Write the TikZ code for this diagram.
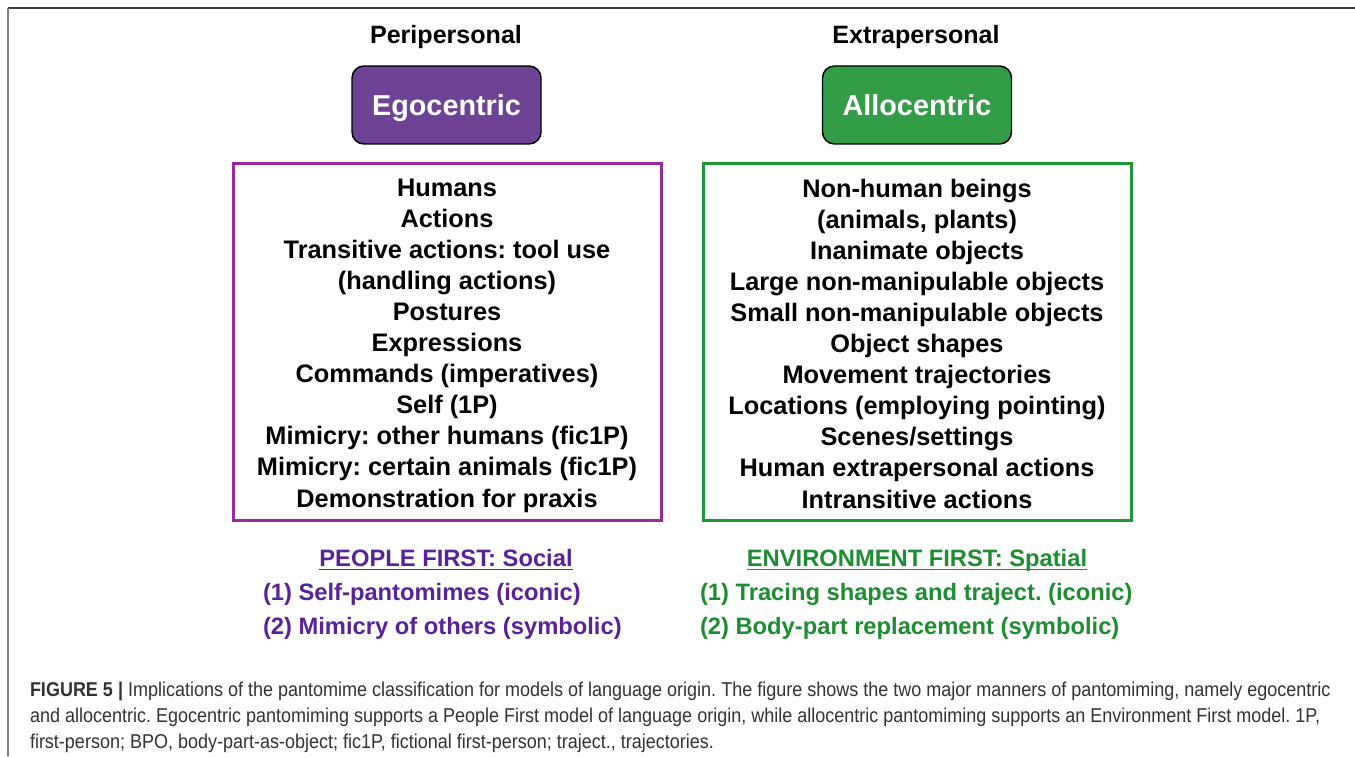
\documentclass[tikz,border=0pt]{standalone}
\usepackage{fontspec}
\setmainfont{Liberation Sans}
\newfontfamily\capfont[FakeStretch=0.9]{Liberation Sans}
\frenchspacing
\definecolor{egofill}{RGB}{110,66,148}
\definecolor{allofill}{RGB}{50,156,70}
\definecolor{egoline}{RGB}{155,40,162}
\definecolor{alloline}{RGB}{28,152,56}
\definecolor{egotext}{RGB}{90,34,152}
\definecolor{allotext}{RGB}{30,140,48}
\definecolor{captext}{RGB}{50,50,50}
\begin{document}
\begin{tikzpicture}[x=0.75pt,y=-0.75pt,
  every node/.style={inner sep=0pt, outer sep=0pt},
  colhead/.style={font=\fontsize{18.8}{22}\selectfont\bfseries, anchor=base},
  tag/.style={draw=black, line width=1.1pt, rounded corners=9pt,
    minimum width=141.75pt, minimum height=58.5pt, text=white,
    text height=15.5pt, text depth=0pt,
    font=\fontsize{21.6}{26}\selectfont\bfseries},
  listbox/.style={line width=2.25pt, minimum width=321pt, minimum height=267pt},
  item/.style={font=\fontsize{19}{23}\selectfont\bfseries, anchor=base},
  firsthead/.style={font=\fontsize{17.8}{22}\selectfont\bfseries, anchor=base},
  firstitem/.style={font=\fontsize{17.8}{22}\selectfont\bfseries, anchor=base west},
  capline/.style={font=\capfont\fontsize{15}{19.5}\selectfont, text=captext, anchor=base west},
]
\useasboundingbox (0,0) rectangle (1355,756);

% page frame (top and left edges)
\draw[line width=1.6pt, color={rgb,255:red,60;green,60;blue,60}] (8,8) -- (1355,8);
\draw[line width=1.6pt, color={rgb,255:red,120;green,120;blue,120}] (8,8) -- (8,756);

% column headings
\node[colhead] (peri) at (446,44) {Peripersonal};
\node[colhead] (extra) at (916,44) {Extrapersonal};

% coloured tags
\node[tag, fill=egofill] (ego) at (446.5,105) {Egocentric};
\node[tag, fill=allofill] (allo) at (917,105) {Allocentric};

% framed lists
\node[listbox, draw=egoline] (leftbox) at (447,342) {};
\node[listbox, draw=alloline] (rightbox) at (917,342) {};

\foreach \t [count=\i] in {
  {Humans},
  {Actions},
  {Transitive actions: tool use},
  {(handling actions)},
  {Postures},
  {Expressions},
  {Commands (imperatives)},
  {Self (1P)},
  {Mimicry: other humans (fic1P)},
  {Mimicry: certain animals (fic1P)},
  {Demonstration for praxis}}
  \node[item] (L\i) at (447,{196+31.1*(\i-1)}) {\t};

\foreach \t [count=\i] in {
  {Non-human beings},
  {(animals, plants)},
  {Inanimate objects},
  {Large non-manipulable objects},
  {Small non-manipulable objects},
  {Object shapes},
  {Movement trajectories},
  {Locations (employing pointing)},
  {Scenes/settings},
  {Human extrapersonal actions},
  {Intransitive actions}}
  \node[item] (R\i) at (917,{197+31.1*(\i-1)}) {\t};

% models of language origin
\node[firsthead, text=egotext] (pf) at (446,566) {PEOPLE FIRST: Social};
\draw[egotext, line width=1.3pt] ([yshift=-2.6pt]pf.base west) -- ([yshift=-2.6pt]pf.base east);
\node[firstitem, text=egotext] (pf1) at (263,600) {(1) Self-pantomimes (iconic)};
\node[firstitem, text=egotext] (pf2) at (263,634) {(2) Mimicry of others (symbolic)};

\node[firsthead, text=allotext] (ef) at (917,566) {ENVIRONMENT FIRST: Spatial};
\draw[allotext, line width=1.3pt] ([yshift=-2.6pt]ef.base west) -- ([yshift=-2.6pt]ef.base east);
\node[firstitem, text=allotext] (ef1) at (700,600) {(1) Tracing shapes and traject. (iconic)};
\node[firstitem, text=allotext] (ef2) at (700,634) {(2) Body-part replacement (symbolic)};

% caption
\node[capline] (cap1) at (30,696) {\textbf{FIGURE 5 |} Implications of the pantomime classification for models of language origin. The figure shows the two major manners of pantomiming, namely egocentric};
\node[capline] (cap2) at (30,722) {and allocentric. Egocentric pantomiming supports a People First model of language origin, while allocentric pantomiming supports an Environment First model. 1P,};
\node[capline] (cap3) at (30,748) {first-person; BPO, body-part-as-object; fic1P, fictional first-person; traject., trajectories.};
\end{tikzpicture}
\end{document}
